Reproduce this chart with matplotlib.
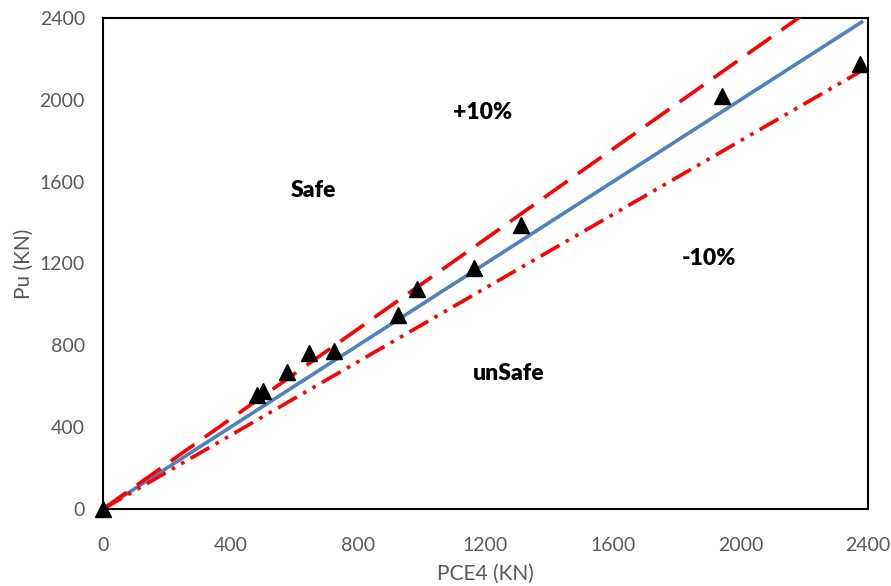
import numpy as np
import matplotlib.pyplot as plt

plt.rcParams['font.family'] = ['Lato', 'DejaVu Sans']

# measured points (PCE4 prediction vs. test Pu), kN
pce4 = [0, 482, 501, 576, 647, 725, 926, 986, 1165, 1311, 1941, 2375]
pu = [0, 557, 577, 671, 763, 774, 948, 1074, 1177, 1388, 2019, 2175]

# reference lines
line_x = np.array([0, 2380])
ticks = [0, 400, 800, 1200, 1600, 2000, 2400]

fig = plt.figure(figsize=(8.91, 5.86), dpi=100)
ax = fig.add_axes([0.1156, 0.1314, 0.8586, 0.8379])

ax.plot(line_x, line_x, color='#4F81BD', lw=2.6, zorder=2)
ax.plot(line_x, 1.1 * line_x, color='#FF0000', lw=2.6, dashes=(8, 3.5), zorder=3)
ax.plot(line_x, 0.9 * line_x, color='#FF0000', lw=2.6,
        dashes=(6, 2, 1, 2, 1, 2), zorder=3)
ax.plot(pce4, pu, linestyle='none', marker='^', ms=11, color='black',
        zorder=4, clip_on=False)

ax.text(1192, 1936, '+10%', fontsize=16.5, fontweight='heavy', ha='center', va='center')
ax.text(659, 1559, 'Safe', fontsize=16.5, fontweight='heavy', ha='center', va='center')
ax.text(1901, 1222, '-10%', fontsize=16.5, fontweight='heavy', ha='center', va='center')
ax.text(1274, 660, 'unSafe', fontsize=16.5, fontweight='heavy', ha='center', va='center')

ax.set_xlim(0, 2400)
ax.set_ylim(0, 2400)
ax.set_xticks(ticks)
ax.set_yticks(ticks)
ax.tick_params(length=0, labelsize=14, labelcolor='#595959')
ax.tick_params(axis='x', pad=20)
ax.tick_params(axis='y', pad=13)
for s in ax.spines.values():
    s.set_linewidth(1.5)
    s.set_color('black')

ax.set_xlabel('PCE4 (KN)', fontsize=15, color='#595959', labelpad=7)
ax.set_ylabel('Pu (KN)', fontsize=15, color='#595959', labelpad=4)

fig.savefig('out.png', dpi=100)
